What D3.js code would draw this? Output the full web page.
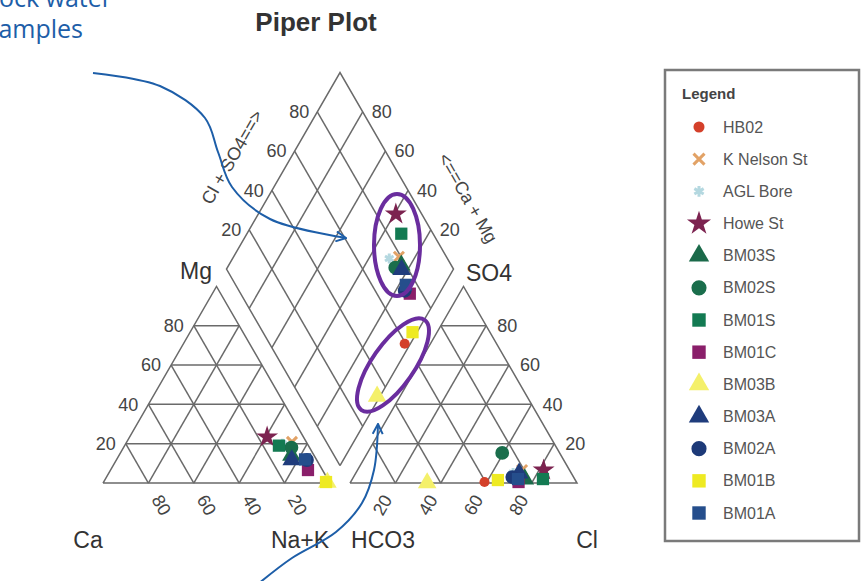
<!DOCTYPE html>
<html>
<head>
<meta charset="utf-8">
<script src="https://cdn.jsdelivr.net/npm/d3@7"></script>
<style>
  body { margin: 0; background: #fff; }
  text { font-family: "Liberation Sans", Arial, sans-serif; }
</style>
</head>
<body>
<div id="chart"></div>
<script>
// sample names, colours and marker shapes
var samples = ["HB02", "K Nelson St", "AGL Bore", "Howe St", "BM03S", "BM02S", "BM01S",
               "BM01C", "BM03B", "BM03A", "BM02A", "BM01B", "BM01A"];
var colors = ["#d4402a", "#e2a266", "#b4d8e0", "#7c2350", "#1b6a4a", "#1a6e4c", "#137a52",
              "#8a1f6a", "#f4f06a", "#1f3c7c", "#1d3a78", "#eeea22", "#254e8c"];
var shapes = ["circle", "times", "asterisk", "star", "triangle", "circle", "square",
              "square", "triangle", "triangle", "circle", "square", "square"];

// cation percentages (Na+K is the remainder)
var ca = [2.0, 6.3, 11.0, 16.0, 10.0, 8.0, 13.0, 6.4, 1.0, 11.0, 4.3, 1.5, 5.0];
var mg = [0.5, 20.9, 20.0, 23.4, 14.0, 18.0, 19.0, 6.6, 0.3, 11.7, 11.7, 0.5, 12.0];
// anion percentages (HCO3 is the remainder)
var cl = [59.0, 72.5, 69.3, 82.0, 76.0, 59.4, 84.0, 74.0, 34.0, 72.0, 70.0, 64.4, 73.0];
var so4 = [0.5, 6.6, 5.1, 6.6, 2.0, 15.3, 2.0, 0.5, 0.0, 5.0, 3.0, 1.5, 2.0];

var ticks = [20, 40, 60, 80];

// annotation overlay paths
var arrowTop = [[93, 73], [160, 86], [205, 118], [218, 152], [232, 187], [270, 219], [346, 238]];
var arrowBottom = [[258, 584], [292, 558], [336, 532], [362, 503], [374, 470], [378, 424]];

function init() {
    var w = 862, h = 581;
    var side = 227, x0 = 103, baseY = 483, gap = 20;
    var th = side * Math.sqrt(3) / 2;
    var xr0 = x0 + side + gap;
    var bx = x0 + side + gap / 2, by = baseY - gap * Math.sqrt(3) / 2;

    var svg = d3.select("#chart").append("svg")
        .attr("width", w).attr("height", h);

    // ternary scales: along-base position and height
    var xLeft = d3.scaleLinear().domain([0, 100]).range([x0, x0 + side]);
    var xRight = d3.scaleLinear().domain([0, 100]).range([xr0, xr0 + side]);
    var yTri = d3.scaleLinear().domain([0, 100]).range([baseY, baseY - th]);
    var xDia = d3.scaleLinear().domain([-100, 100]).range([bx - side / 2, bx + side / 2]);
    var yDia = d3.scaleLinear().domain([0, 200]).range([by, by - 2 * th]);

    // p = right-vertex component, q = top component
    function triPt(xs, p, q) { return [xs(p + q / 2), yTri(q)]; }
    function diaPt(a, b) { return [xDia(a - b), yDia(a + b)]; }

    var line = d3.line();
    var grid = svg.append("g").attr("fill", "none").attr("stroke", "#6a6a6a").attr("stroke-width", 1.5);

    [xLeft, xRight].forEach(function(xs) {
        grid.append("path").attr("d", line([triPt(xs, 0, 0), triPt(xs, 100, 0), triPt(xs, 0, 100), triPt(xs, 0, 0)]));
        ticks.forEach(function(t) {
            grid.append("path").attr("d", line([triPt(xs, 0, t), triPt(xs, 100 - t, t)]));
            grid.append("path").attr("d", line([triPt(xs, t, 0), triPt(xs, t, 100 - t)]));
            grid.append("path").attr("d", line([triPt(xs, 100 - t, 0), triPt(xs, 0, 100 - t)]));
        });
    });
    grid.append("path").attr("d", line([diaPt(0, 0), diaPt(100, 0), diaPt(100, 100), diaPt(0, 100), diaPt(0, 0)]));
    ticks.forEach(function(t) {
        grid.append("path").attr("d", line([diaPt(t, 0), diaPt(t, 100)]));
        grid.append("path").attr("d", line([diaPt(0, t), diaPt(100, t)]));
    });

    // tick labels
    var tl = svg.append("g").attr("fill", "#444").style("font-size", "18px");
    ticks.forEach(function(t) {
        var p = triPt(xLeft, 0, t);
        tl.append("text").attr("x", p[0] - 10).attr("y", p[1]).attr("dy", "0.35em")
            .attr("text-anchor", "end").text(t);
        p = triPt(xLeft, 100 - t, 0);
        tl.append("text").attr("transform", "translate(" + (p[0] + 13) + "," + (p[1] + 22) + ") rotate(60)")
            .attr("text-anchor", "middle").attr("dy", "0.35em").text(t);
        p = triPt(xRight, 100 - t, t);
        tl.append("text").attr("x", p[0] + 11).attr("y", p[1]).attr("dy", "0.35em").text(t);
        p = triPt(xRight, t, 0);
        tl.append("text").attr("transform", "translate(" + (p[0] - 13) + "," + (p[1] + 22) + ") rotate(-60)")
            .attr("text-anchor", "middle").attr("dy", "0.35em").text(t);
        p = diaPt(t, 100);
        tl.append("text").attr("x", p[0] - 8).attr("y", p[1]).attr("dy", "0.35em")
            .attr("text-anchor", "end").text(t);
        p = diaPt(100, t);
        tl.append("text").attr("x", p[0] + 9).attr("y", p[1]).attr("dy", "0.35em").text(t);
    });

    // axis titles
    var at = svg.append("g").attr("fill", "#333").style("font-size", "23px");
    at.append("text").attr("x", 88).attr("y", 548).attr("text-anchor", "middle").text("Ca");
    at.append("text").attr("x", 300).attr("y", 548).attr("text-anchor", "middle").text("Na+K");
    at.append("text").attr("x", 383).attr("y", 548).attr("text-anchor", "middle").text("HCO3");
    at.append("text").attr("x", 587).attr("y", 548).attr("text-anchor", "middle").text("Cl");
    at.append("text").attr("x", 196).attr("y", 279).attr("text-anchor", "middle").text("Mg");
    at.append("text").attr("x", 489).attr("y", 281).attr("text-anchor", "middle").text("SO4");
    svg.append("text").attr("transform", "translate(232,157) rotate(-60)")
        .attr("text-anchor", "middle").attr("dy", "0.35em").attr("fill", "#444")
        .style("font-size", "18px").text("Cl + SO4==>");
    svg.append("text").attr("transform", "translate(468,198) rotate(60)")
        .attr("text-anchor", "middle").attr("dy", "0.35em").attr("fill", "#444")
        .style("font-size", "18px").text("<==Ca + Mg");

    svg.append("text").attr("x", 316).attr("y", 31).attr("text-anchor", "middle")
        .attr("fill", "#333").style("font-size", "26px").style("font-weight", "bold")
        .text("Piper Plot");

    // markers
    var symTypes = {
        circle: d3.symbolCircle, times: d3.symbolTimes, asterisk: d3.symbolAsterisk,
        star: d3.symbolStar, triangle: d3.symbolTriangle, square: d3.symbolSquare
    };
    var stroked = { times: true, asterisk: true };
    function drawSym(g, i, x, y, size) {
        var sym = d3.symbol().type(symTypes[shapes[i]]).size(stroked[shapes[i]] ? size * 0.45 : size);
        var el = g.append("path").attr("d", sym()).attr("transform", "translate(" + x + "," + y + ")");
        if (stroked[shapes[i]]) {
            el.attr("fill", "none").attr("stroke", colors[i]).attr("stroke-width", 3);
        } else {
            el.attr("fill", colors[i]);
        }
    }
    function symSize(i) { return i === 0 ? 80 : 150; }

    var pts = svg.append("g");
    samples.forEach(function(name, i) {
        var nak = 100 - ca[i] - mg[i];
        var c = triPt(xLeft, nak, mg[i]);
        var a = triPt(xRight, cl[i], so4[i]);
        var d = diaPt(cl[i] + so4[i], ca[i] + mg[i]);
        drawSym(pts, i, c[0], c[1], symSize(i));
        drawSym(pts, i, a[0], a[1], symSize(i));
        drawSym(pts, i, d[0], d[1], symSize(i));
    });

    // legend
    var lg = svg.append("g");
    lg.append("rect").attr("x", 665).attr("y", 70).attr("width", 194).attr("height", 471)
        .attr("fill", "#fff").attr("stroke", "#7a7a7a").attr("stroke-width", 2.5);
    lg.append("text").attr("x", 682).attr("y", 99).attr("fill", "#444")
        .style("font-size", "15px").style("font-weight", "bold").text("Legend");
    var ly = d3.scalePoint().domain(samples).range([127, 513]);
    samples.forEach(function(name, i) {
        drawSym(lg, i, 699, ly(name), symSize(i) * 1.2);
        lg.append("text").attr("x", 723).attr("y", ly(name)).attr("dy", "0.35em")
            .attr("fill", "#555").style("font-size", "16px").text(name);
    });

    // annotation overlay
    var blue = "#1d5ea8";
    svg.append("defs").append("marker").attr("id", "head")
        .attr("viewBox", "0 0 12 12").attr("refX", 11).attr("refY", 6)
        .attr("markerWidth", 12).attr("markerHeight", 12).attr("markerUnits", "userSpaceOnUse")
        .attr("orient", "auto")
        .append("path").attr("d", "M1,1 L11,6 L1,11").attr("fill", "none")
        .attr("stroke", blue).attr("stroke-width", 2);
    var curve = d3.line().curve(d3.curveCatmullRom);
    [arrowTop, arrowBottom].forEach(function(pp) {
        svg.append("path").attr("d", curve(pp)).attr("fill", "none")
            .attr("stroke", blue).attr("stroke-width", 2).attr("marker-end", "url(#head)");
    });
    svg.append("text").attr("x", 112).attr("y", 7).attr("text-anchor", "end")
        .attr("fill", blue).style("font-size", "25px").style("font-family", "Open Sans").text("Rock water");
    svg.append("text").attr("x", 83).attr("y", 38).attr("text-anchor", "end")
        .attr("fill", blue).style("font-size", "25px").style("font-family", "Open Sans").text("samples");

    var purple = "#6a2d9e";
    svg.append("ellipse").attr("cx", 397).attr("cy", 245).attr("rx", 23).attr("ry", 51)
        .attr("fill", "none").attr("stroke", purple).attr("stroke-width", 4);
    svg.append("ellipse").attr("transform", "translate(393,365) rotate(-55)")
        .attr("rx", 55).attr("ry", 21)
        .attr("fill", "none").attr("stroke", purple).attr("stroke-width", 4);
}

window.onload = init;
</script>
</body>
</html>
